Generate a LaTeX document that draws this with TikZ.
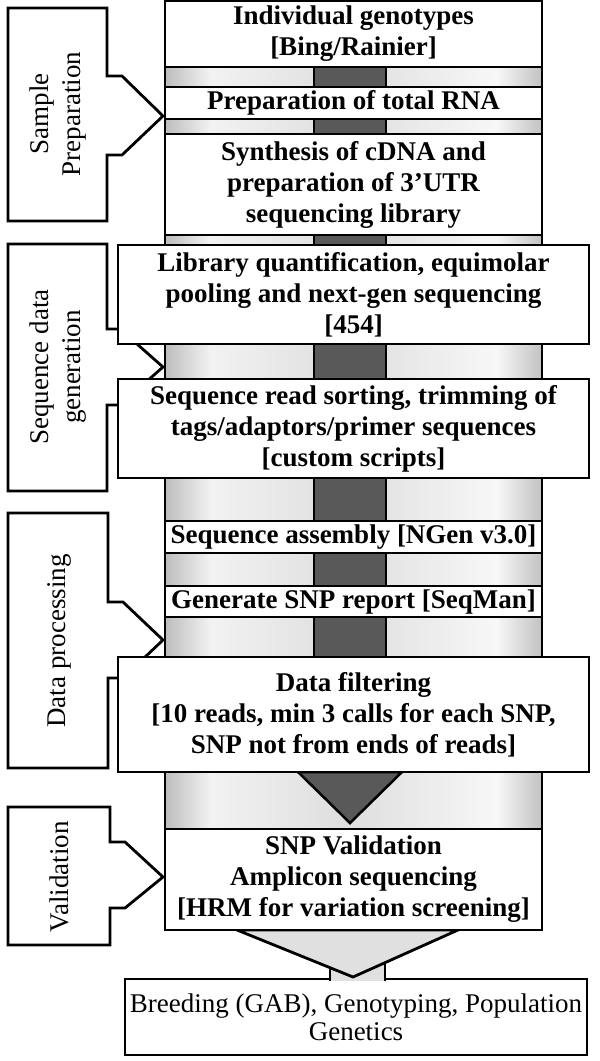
\documentclass[tikz,border=0pt]{standalone}
\usepackage{fontspec}
\setmainfont{Liberation Serif}
\definecolor{cA}{gray}{0.74}
\definecolor{cB}{gray}{0.95}
\definecolor{cC}{gray}{0.87}
\definecolor{cD}{gray}{0.97}
\definecolor{cE}{gray}{0.76}
\definecolor{darkfill}{gray}{0.35}
\definecolor{chevfill}{gray}{0.88}
\pgfdeclarehorizontalshading{colshade}{100bp}{color(0bp)=(cA); color(25bp)=(cA); color(31bp)=(cB); color(49bp)=(cC); color(69bp)=(cD); color(75bp)=(cE); color(100bp)=(cE)}
\begin{document}
\begin{tikzpicture}[x=1pt,y=-1pt,line join=miter]
\tikzset{
  stepbox/.style={draw, fill=white, line width=2.8pt, inner sep=0pt, align=center,
    font=\fontsize{27}{31}\selectfont\bfseries},
  endbox/.style={draw, fill=white, line width=2.8pt, inner sep=0pt, align=center,
    font=\fontsize{27}{28}\selectfont},
  sidebox/.style={draw, fill=white, line width=2.8pt},
  sidetext/.style={rotate=90, align=center, inner sep=0pt,
    font=\fontsize{27}{32}\selectfont},
  darkbar/.style={fill=darkfill, draw, line width=2.5pt},
  chev/.style={fill=chevfill, draw, line width=2.8pt},
}
\useasboundingbox (0,0) rectangle (600,1061);

% main column
\shadedraw[shading=colshade, line width=2.8pt] (165,1) rectangle (542,930);
% dark inner arrow
\draw[darkbar] (314,1) rectangle (386,772);
\draw[darkbar] (298,772) -- (350,823) -- (402,772) -- cycle;

% final box and outer arrow head
\node[endbox, minimum width=462pt, minimum height=76pt] (b10) at (356,1017)
  {Breeding (GAB), Genotyping, Population\\Genetics};
\fill[chevfill] (330,935) rectangle (385,981);
\draw[line width=2.5pt] (330,955) -- (330,980.5) (385,955) -- (385,980.5);
\draw[chev] (237,930) -- (353,977) -- (458,930) -- cycle;

% side callouts
\draw[sidebox] (8,8) -- (107,8) -- (107,76) -- (122,76) -- (163,116) -- (122,155)
  -- (107,155) -- (107,221) -- (8,221) -- cycle;
\draw[sidebox] (8,244) -- (107,244) -- (107,329) -- (120,329) -- (163,367) -- (120,405)
  -- (107,405) -- (107,491) -- (8,491) -- cycle;
\draw[sidebox] (8,513) -- (108,513) -- (108,602) -- (123,602) -- (163,640) -- (123,678)
  -- (108,678) -- (108,768) -- (8,768) -- cycle;
\draw[sidebox] (8,807) -- (110,807) -- (110,842) -- (125,842) -- (163,877) -- (125,908)
  -- (110,908) -- (110,945) -- (8,945) -- cycle;

\node[sidetext] (s1) at (58,114) {Sample\\Preparation};
\node[sidetext] (s2) at (58,367) {Sequence data\\generation};
\node[sidetext] (s3) at (59,641) {Data processing};
\node[sidetext] (s4) at (59,877) {Validation};

% step boxes
\node[stepbox, minimum width=377pt, minimum height=66pt] (b1) at (353.5,34)
  {Individual genotypes\\{}[Bing/Rainier]};
\node[stepbox, minimum width=377pt, minimum height=32pt] (b2) at (353.5,103)
  {Preparation of total RNA};
\node[stepbox, minimum width=377pt, minimum height=101pt] (b3) at (353.5,184.5)
  {Synthesis of cDNA and\\preparation of 3’UTR\\sequencing library};
\node[stepbox, minimum width=471pt, minimum height=99pt] (b4) at (353.5,294.5)
  {Library quantification, equimolar\\pooling and next-gen sequencing\\{}[454]};
\node[stepbox, minimum width=471pt, minimum height=99pt] (b5) at (353.5,428.5)
  {Sequence read sorting, trimming of\\tags/adaptors/primer sequences\\{}[custom scripts]};
\node[stepbox, minimum width=377pt, minimum height=32pt] (b6) at (353.5,537)
  {Sequence assembly [NGen v3.0]};
\node[stepbox, minimum width=377pt, minimum height=31pt] (b7) at (353.5,601.5)
  {Generate SNP report [SeqMan]};
\node[stepbox, minimum width=471pt, minimum height=115pt] (b8) at (353.5,714.5)
  {Data filtering\\{}[10 reads, min 3 calls for each SNP,\\SNP not from ends of reads]};
\node[stepbox, minimum width=377pt, minimum height=101pt] (b9) at (353.5,879.5)
  {SNP Validation\\Amplicon sequencing\\{}[HRM for variation screening]};
\end{tikzpicture}
\end{document}
